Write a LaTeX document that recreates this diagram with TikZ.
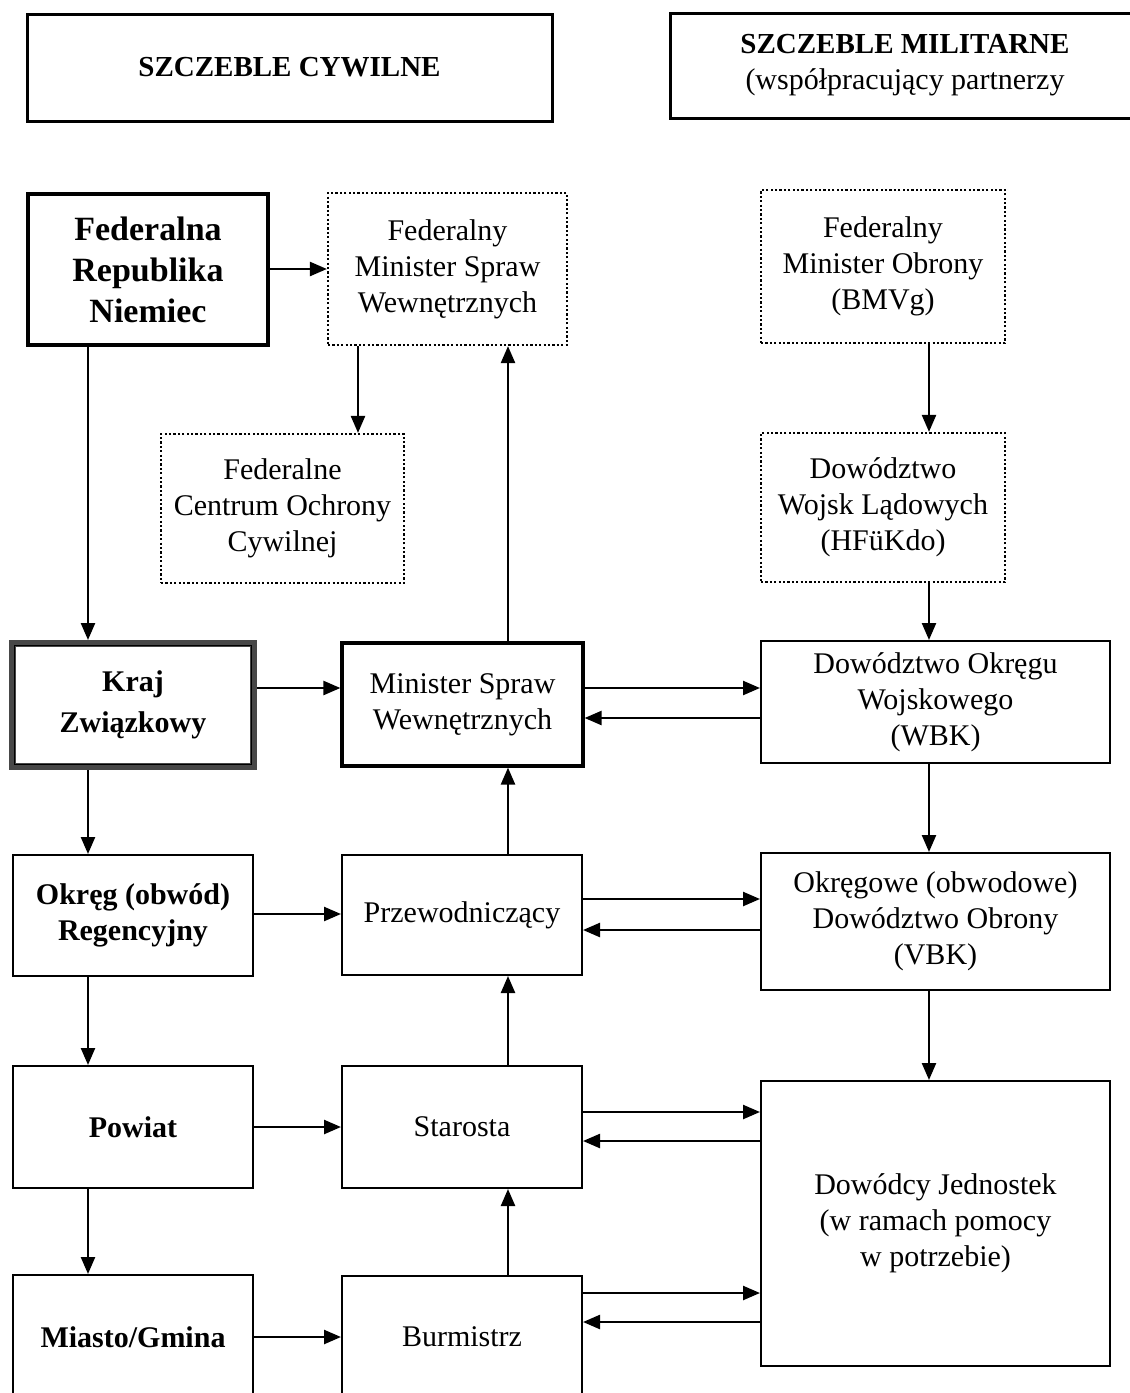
\documentclass[tikz,border=0pt]{standalone}
\usepackage{fontspec}
\setmainfont{Liberation Serif}
\usetikzlibrary{arrows.meta,calc}
\begin{document}
\begin{tikzpicture}[x=0.5pt,y=-0.5pt,
  every node/.style={font=\fontsize{15}{18}\selectfont, align=center, inner sep=0pt},
  box/.style={draw, line width=1pt},
  headbox/.style={draw, line width=1.5pt},
  dotbox/.style={draw, line width=1.1pt, dash pattern=on 1.1pt off 1.1pt},
  boldtxt/.style={font=\fontsize{15}{18}\selectfont\bfseries},
  sz/.style 2 args={minimum width=#1, minimum height=#2},
  arr/.style={line width=1.2pt, -{Triangle[length=8.5pt,width=7pt]}}
]
\useasboundingbox (0,0) rectangle (1130,1393);
\clip (0,0) rectangle (1130,1393);

% column headers
\node[headbox, sz={262.5pt}{53.5pt}, font=\fontsize{14.5}{18}\selectfont\bfseries] (hcyw) at (289.5,67.5) {SZCZEBLE CYWILNE};
\node[headbox, sz={235pt}{52.5pt}] (hmil) at (905,65.5) {{\fontsize{14.5}{18.5}\selectfont\bfseries SZCZEBLE MILITARNE}\\(współpracujący partnerzy};

% federal level
\node[draw, line width=2pt, sz={120pt}{75.5pt}, font=\fontsize{17}{20.5}\selectfont\bfseries] (frn) at (148,269.5) {Federalna\\Republika\\Niemiec};
\node[dotbox, sz={119.5pt}{76pt}] (fmsw) at (447.5,269) {Federalny\\Minister Spraw\\Wewnętrznych};
\node[dotbox, sz={122pt}{76.5pt}] (fmo) at (883,266.5) {Federalny\\Minister Obrony\\(BMVg)};
\node[dotbox, sz={121.5pt}{74.5pt}] (fcoc) at (282.5,508.5) {Federalne\\Centrum Ochrony\\Cywilnej};
\node[dotbox, sz={122pt}{74.5pt}] (dwl) at (883,507.5) {Dowództwo\\Wojsk Lądowych\\(HFüKdo)};

% state level
\node[draw=black!72, line width=3.5pt, sz={120.5pt}{61.5pt}, font=\fontsize{15}{20.5}\selectfont\bfseries] (kraj) at (133,705) {Kraj\\Związkowy};
\draw[line width=0.8pt] ($(kraj.north west)+(5.5,5.5)$) rectangle ($(kraj.south east)+(-5.5,-5.5)$);
\node[draw, line width=1.6pt, sz={120.5pt}{61.5pt}] (msw) at (462.5,704.5) {Minister Spraw\\Wewnętrznych};
\node[box, sz={174.5pt}{61pt}] (wbk) at (935.5,702) {Dowództwo Okręgu\\Wojskowego\\(WBK)};

% district level
\node[box, sz={120pt}{60.5pt}, boldtxt] (okr) at (133,915.5) {Okręg (obwód)\\Regencyjny};
\node[box, sz={120pt}{60pt}] (prz) at (462,915) {Przewodniczący};
\node[box, sz={174.5pt}{68.5pt}] (vbk) at (935.5,921.5) {Okręgowe (obwodowe)\\Dowództwo Obrony\\(VBK)};

% county level
\node[box, sz={120pt}{61pt}, boldtxt] (pow) at (133,1127) {Powiat};
\node[box, sz={120pt}{61pt}] (sta) at (462,1127) {Starosta};
\node[box, sz={174.5pt}{142.5pt}] (dj) at (935.5,1223.5) {Dowódcy Jednostek\\(w ramach pomocy\\w potrzebie)};

% municipal level
\node[box, sz={120pt}{62pt}, boldtxt] (mia) at (133,1337) {Miasto/Gmina};
\node[box, sz={120pt}{61pt}] (bur) at (462,1337) {Burmistrz};

% guide lines for connectors
\coordinate (xl) at (88,0);
\coordinate (xf) at (358,0);
\coordinate (xm) at (508,0);
\coordinate (xr) at (929,0);
\coordinate (y0) at (0,269);
\coordinate (ya) at (0,688);
\coordinate (yb) at (0,718);
\coordinate (yc) at (0,899);
\coordinate (yd) at (0,930);
\coordinate (ye) at (0,914);
\coordinate (yf) at (0,1112);
\coordinate (yg) at (0,1141);
\coordinate (yh) at (0,1127);
\coordinate (yi) at (0,1293);
\coordinate (yj) at (0,1322);
\coordinate (yk) at (0,1337);

% civil chain (left column)
\draw[arr] (frn.east |- y0) -- (fmsw.west |- y0);
\draw[arr] (frn.south -| xl) -- (kraj.north -| xl);
\draw[arr] (kraj.south -| xl) -- (okr.north -| xl);
\draw[arr] (okr.south -| xl) -- (pow.north -| xl);
\draw[arr] (pow.south -| xl) -- (mia.north -| xl);

% left to middle column
\draw[arr] (kraj.east |- ya) -- (msw.west |- ya);
\draw[arr] (okr.east |- ye) -- (prz.west |- ye);
\draw[arr] (pow.east |- yh) -- (sta.west |- yh);
\draw[arr] (mia.east |- yk) -- (bur.west |- yk);

% middle column reporting upwards
\draw[arr] (fmsw.south -| xf) -- (fcoc.north -| xf);
\draw[arr] (msw.north -| xm) -- (fmsw.south -| xm);
\draw[arr] (prz.north -| xm) -- (msw.south -| xm);
\draw[arr] (sta.north -| xm) -- (prz.south -| xm);
\draw[arr] (bur.north -| xm) -- (sta.south -| xm);

% military chain (right column)
\draw[arr] (fmo.south -| xr) -- (dwl.north -| xr);
\draw[arr] (dwl.south -| xr) -- (wbk.north -| xr);
\draw[arr] (wbk.south -| xr) -- (vbk.north -| xr);
\draw[arr] (vbk.south -| xr) -- (dj.north -| xr);

% civil-military cooperation
\draw[arr] (msw.east |- ya) -- (wbk.west |- ya);
\draw[arr] (wbk.west |- yb) -- (msw.east |- yb);
\draw[arr] (prz.east |- yc) -- (vbk.west |- yc);
\draw[arr] (vbk.west |- yd) -- (prz.east |- yd);
\draw[arr] (sta.east |- yf) -- (dj.west |- yf);
\draw[arr] (dj.west |- yg) -- (sta.east |- yg);
\draw[arr] (bur.east |- yi) -- (dj.west |- yi);
\draw[arr] (dj.west |- yj) -- (bur.east |- yj);
\end{tikzpicture}
\end{document}
